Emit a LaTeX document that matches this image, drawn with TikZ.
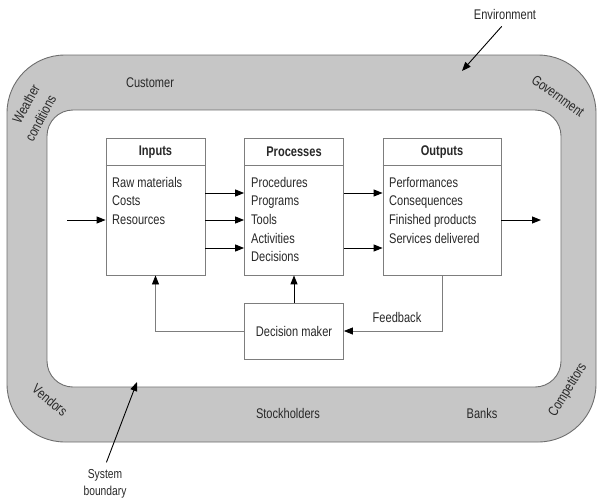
\documentclass[tikz,border=0pt]{standalone}
\usepackage{fontspec}
\setmainfont{Liberation Sans}[FakeStretch=0.79]
\usetikzlibrary{arrows.meta}
\definecolor{bandfill}{RGB}{198,198,198}
\definecolor{bandedge}{RGB}{110,110,110}
\definecolor{boxedge}{RGB}{125,125,125}
\definecolor{ink}{RGB}{40,40,40}

\begin{document}
\begin{tikzpicture}[x=1pt,y=-1pt,
  every node/.style={font=\fontsize{14}{18.6}\selectfont, text=ink},
  box/.style={draw=boxedge, line width=0.8pt, minimum width=99pt, inner sep=0pt},
  head/.style={font=\fontsize{14}{16}\selectfont\bfseries},
  items/.style={align=left, anchor=north west, inner sep=0pt},
  band/.style={font=\fontsize{14}{16}\selectfont},
  flow/.style={-{Triangle[length=9pt,width=7pt]}, line width=1pt, black},
  loop/.style={-{Triangle[length=9pt,width=7pt,color=black]}, line width=0.8pt, boxedge},
  pointer/.style={-{Triangle[length=9pt,width=7pt]}, line width=0.9pt, black}]
\useasboundingbox (0,0) rectangle (597,501);

% environment band and system boundary
\filldraw[fill=bandfill, draw=bandedge, line width=0.9pt, rounded corners=58pt]
  (7,55) rectangle (596,442);
\filldraw[fill=white, draw=bandedge, line width=0.9pt, rounded corners=26pt]
  (47,110) rectangle (561,387);

% the three stages
\node[box, minimum height=137pt] (in) at (155.5,206.5) {};
\node[box, minimum height=137pt] (pr) at (294,206.5) {};
\node[box, minimum height=137pt, minimum width=118pt] (out) at (442,206.5) {};
\node[box, minimum height=56pt] (dm) at (294,331) {Decision maker};

\foreach \b in {in,pr,out}
  \draw[boxedge, line width=0.8pt] ([yshift=-28pt]\b.north west) -- ([yshift=-28pt]\b.north east);

\node[head] (inh) at (155.5,152) {Inputs};
\node[head] (prh) at (294,152) {Processes};
\node[head] (outh) at (442,152) {Outputs};

\node[items] (inl) at (112,177) {Raw materials\\Costs\\Resources};
\node[items] (prl) at (251,177) {Procedures\\Programs\\Tools\\Activities\\Decisions};
\node[items] (outl) at (389,177) {Performances\\Consequences\\Finished products\\Services delivered};

% flows
\coordinate (src) at (67,220);
\coordinate (sink) at (541,220);
\draw[flow] (src) -- ([yshift=-13.5pt]in.west);
\draw[flow] ([yshift=13.5pt]in.east) -- ([yshift=13.5pt]pr.west);
\draw[flow] ([yshift=-13.5pt]in.east) -- ([yshift=-13.5pt]pr.west);
\draw[flow] ([yshift=-41.5pt]in.east) -- ([yshift=-41.5pt]pr.west);
\draw[flow] ([yshift=13.5pt]pr.east) -- ([yshift=13.5pt]out.west);
\draw[flow] ([yshift=-41.5pt]pr.east) -- ([yshift=-41.5pt]out.west);
\draw[flow] ([yshift=-13.5pt]out.east) -- (sink);

% control loop
\draw[flow] (dm.north) -- (pr.south);
\draw[loop] (dm.west) -| (in.south);
\draw[loop] (out.south) |- (dm.east);
\node (fbl) at (397,317) {Feedback};

% environment actors
\node[band] (cust) at (150,83) {Customer};
\node[band, rotate=61, inner sep=0pt] (wea) at (26,104) {Weather};
\node[band, rotate=62, inner sep=0pt] (cond) at (40.5,118) {conditions};
\node[band, rotate=-36] (gov) at (558,96) {Government};
\node[band, rotate=-40] (ven) at (50,400) {Vendors};
\node[band] (stock) at (288,413) {Stockholders};
\node[band] (bank) at (482,413) {Banks};
\node[band, rotate=58, inner sep=0pt] (comp) at (568,390) {Competitors};

% callouts
\node[band] (env) at (505,14) {Environment};
\coordinate (envtip) at (462,71);
\draw[pointer, shorten <=5pt] (env.south) -- (envtip);

\node[band, align=center, font=\fontsize{13}{17}\selectfont] (sb) at (105,484) {System\\boundary};
\coordinate (sbtip) at (137,382);
\draw[pointer, shorten <=4pt] (sb.north) -- (sbtip);
\end{tikzpicture}
\end{document}
